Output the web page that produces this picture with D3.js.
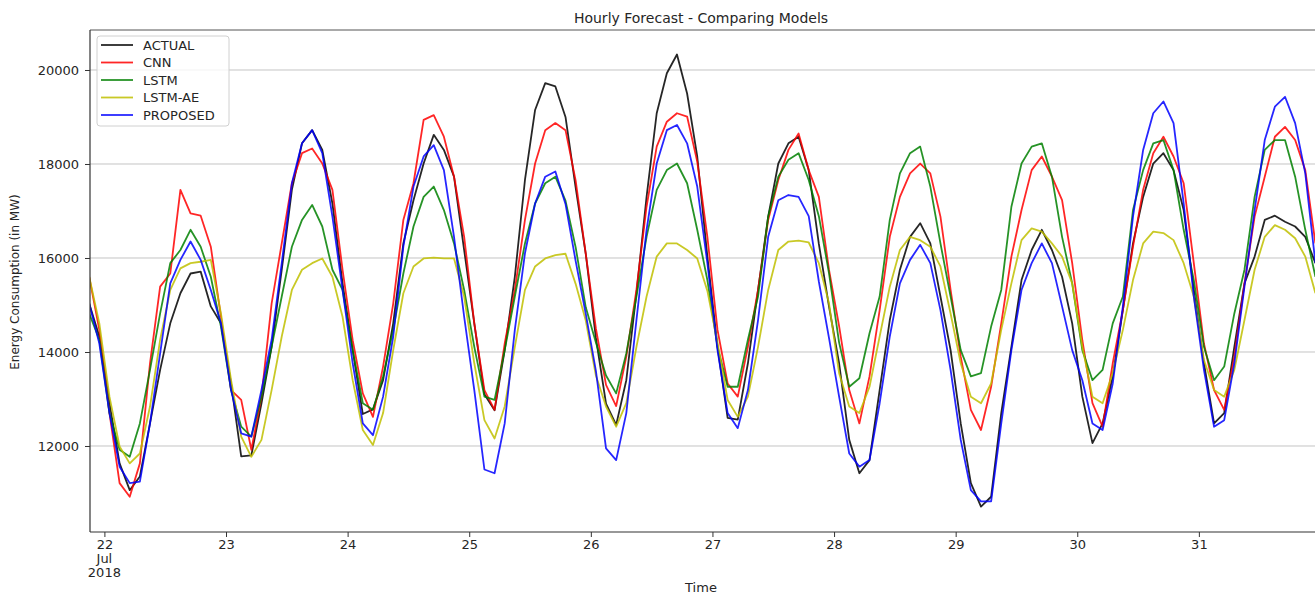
<!DOCTYPE html>
<html><head><meta charset="utf-8">
<script src="https://cdn.jsdelivr.net/npm/d3@7"></script>
<style>
body{margin:0;background:#fff;}
svg text{font-family:"DejaVu Sans",sans-serif;fill:#262626;}
</style></head>
<body><svg id="chart" width="1315" height="594"></svg>
<script>
// Series names (legend order)
const seriesNames = ["ACTUAL","CNN","LSTM","LSTM-AE","PROPOSED"];
// Time axis: samples every 2 hours from 2018-07-21 21:00
const startTime = new Date(2018,6,21,21,0,0);
const stepHours = 2;
// Values, MW, one row per 24h (12 samples)
const actual = [
15030,14330,12910,11630,11060,11350,12480,13620,14610,15250,15670,15710,
14970,14610,13330,11780,11800,12910,14110,15750,17450,18440,18720,18300,
17160,15460,14040,12680,12780,13400,14610,16310,17230,18010,18620,18300,
17730,16170,14610,13100,12760,14040,15600,17660,19150,19720,19650,19000,
17500,16090,14300,12900,12450,13400,15250,17300,19080,19930,20330,19500,
18160,16030,14110,12600,12560,13760,15320,16880,18010,18440,18580,17870,
16300,14970,13760,12130,11420,11700,13190,14680,15750,16450,16740,16310,
15180,14040,12480,11210,10710,10920,12700,14110,15530,16170,16600,16170,
15600,14610,13050,12060,12480,13480,14890,16310,17300,18010,18230,17870,
17020,15320,13760,12480,12700,14110,15460,16030,16810,16900,16770,16670,
16450,15890];
const cnn = [
15600,14470,12700,11210,10920,11630,13760,15390,15670,17450,16950,16900,
16240,14750,13190,12980,11920,13050,15030,16310,17590,18230,18330,18010,
17450,15750,14250,13120,12620,13690,15030,16810,17590,18940,19040,18580,
17730,16450,14610,13190,12770,14180,15320,16810,18010,18720,18870,18720,
17650,16090,14500,13300,12850,13900,15320,17090,18370,18900,19080,19010,
18050,16450,14470,13330,13050,14110,15320,16810,17660,18300,18650,17870,
17300,15750,14550,13190,12480,13480,14890,16450,17300,17800,18010,17800,
16880,15320,13900,12770,12340,13260,14610,16030,17020,17870,18160,17730,
17230,15890,14250,12910,12410,13760,14890,16240,17450,18230,18580,18160,
17590,15890,14180,13190,12770,13900,15460,16880,17730,18580,18790,18510,
17870,16310];
const lstm = [
14820,14260,12700,11920,11770,12480,13620,14820,15890,16170,16600,16240,
15600,14540,13190,12410,12200,13050,14110,15180,16240,16810,17130,16670,
15750,15320,14040,12910,12770,13480,14470,15670,16670,17300,17520,17020,
16310,15320,14110,13050,12980,14040,15180,16310,17160,17590,17730,17220,
16230,14950,14200,13500,13120,13970,15180,16450,17450,17870,18010,17590,
16600,15530,14110,13260,13260,14260,15180,16880,17730,18090,18230,17660,
16890,15680,14200,13260,13440,14400,15180,16810,17800,18230,18370,17520,
16310,15180,14040,13480,13550,14540,15320,17090,18010,18370,18440,17730,
16450,15460,14040,13400,13620,14610,15180,17020,17870,18440,18510,17870,
16600,15530,14110,13400,13690,14820,15750,17300,18300,18510,18510,17730,
16600,15600];
const lstmAe = [
15600,14610,13050,11990,11630,11840,12840,14260,15320,15780,15890,15920,
15960,14820,13400,12200,11770,12130,13190,14330,15320,15750,15890,15990,
15600,14750,13400,12340,12020,12700,14040,15250,15820,15990,16010,15990,
15990,15180,13760,12550,12160,12840,14110,15320,15820,15990,16060,16090,
15450,14670,13500,12840,12410,12910,14110,15180,16030,16310,16310,16170,
15990,15300,14200,12980,12620,13050,14110,15320,16170,16350,16370,16330,
15890,15040,13550,12840,12700,13260,14330,15390,16170,16450,16380,16240,
15820,14820,13760,13050,12910,13330,14470,15460,16380,16630,16560,16310,
16030,15460,14110,13050,12910,13550,14470,15530,16310,16560,16530,16380,
15890,15180,13830,13190,13050,13620,14680,15750,16450,16700,16600,16420,
16030,15250];
const proposed = [
15030,14180,12700,11560,11210,11240,12480,13970,15460,15960,16350,15960,
15320,14610,13190,12270,12200,13190,14260,15890,17590,18440,18720,18230,
16880,15320,13760,12480,12230,13050,14330,16240,17520,18160,18400,17870,
16450,14750,13190,11500,11420,12480,14470,16100,17160,17730,17840,17150,
15940,14810,13600,11950,11700,12700,14680,16600,18010,18720,18830,18440,
17520,15890,14040,12700,12380,13190,14680,16450,17230,17340,17300,16890,
15500,14300,13050,11840,11560,11700,12910,14330,15460,15960,16280,15890,
14890,13620,12130,11060,10820,10820,12480,14040,15320,15890,16310,15890,
14970,14040,13400,12480,12340,13330,14970,16880,18300,19080,19330,18870,
17160,15180,13620,12410,12550,13760,15390,17020,18510,19220,19430,18870,
17800,15890];
const yTicks = [12000,14000,16000,18000,20000];
const xTickDays = [22,23,24,25,26,27,28,29,30,31];
const chartTitle = "Hourly Forecast - Comparing Models";
const xLabel = "Time";
const yLabel = "Energy Consumption (in MW)";

const seriesData = [actual, cnn, lstm, lstmAe, proposed];
const colors = ["#000000","#ff0000","#008000","#bfbf00","#0000ff"];

const svg = d3.select("#chart");
const pL = 90, pT = 30, pB = 532, pR = 1315;
const endTime = d3.timeHour.offset(startTime, stepHours*(actual.length-1));
const x = d3.scaleTime().domain([startTime, endTime]).range([89.2, 89.2 + 5.067*stepHours*(actual.length-1)]);
const y = d3.scaleLinear().domain([10170, 20851]).range([pB, pT]);

// grid
svg.append("g").selectAll("line").data(yTicks).join("line")
  .attr("x1", pL).attr("x2", pR)
  .attr("y1", d=>y(d)).attr("y2", d=>y(d))
  .attr("stroke","#c4c4c4").attr("stroke-width",1);

// clip
svg.append("clipPath").attr("id","clip").append("rect")
  .attr("x",pL).attr("y",pT).attr("width",pR-pL).attr("height",pB-pT);

const line = d3.line().x((d,i)=>x(d3.timeHour.offset(startTime, i*stepHours))).y(d=>y(d));
const lg = svg.append("g").attr("clip-path","url(#clip)");
seriesData.forEach((s,k)=>{
  lg.append("path").datum(s).attr("d", line)
    .attr("fill","none").attr("stroke",colors[k]).attr("stroke-width",1.8)
    .attr("stroke-opacity",0.85).attr("stroke-linejoin","round");
});

// spines
svg.append("line").attr("x1",pL).attr("x2",pR).attr("y1",pT).attr("y2",pT).attr("stroke","#555").attr("stroke-width",1);
svg.append("line").attr("x1",pL).attr("x2",pL).attr("y1",pT).attr("y2",pB).attr("stroke","#333").attr("stroke-width",1.2);
svg.append("line").attr("x1",pL).attr("x2",pR).attr("y1",pB).attr("y2",pB).attr("stroke","#333").attr("stroke-width",1.2);

// y axis
const yAxis = d3.axisLeft(y).tickValues(yTicks).tickSize(5).tickPadding(6).tickFormat(d3.format("d"));
const ya = svg.append("g").attr("transform",`translate(${pL},0)`).call(yAxis);
ya.select(".domain").remove();
ya.selectAll("line").attr("stroke","#333");
ya.selectAll("text").attr("font-size","13px").attr("fill","#262626").style("font-family","DejaVu Sans");

// x axis
const xTickDates = xTickDays.map(d=>new Date(2018,6,d,0,0,0));
const xAxis = d3.axisBottom(x).tickValues(xTickDates).tickSize(5).tickPadding(3).tickFormat(d=>d.getDate());
const xa = svg.append("g").attr("transform",`translate(0,${pB})`).call(xAxis);
xa.select(".domain").remove();
xa.selectAll("line").attr("stroke","#333");
xa.selectAll("text").attr("font-size","13px").attr("fill","#262626").style("font-family","DejaVu Sans");
const firstX = x(xTickDates[0]);
svg.append("text").attr("x",firstX).attr("y",563).attr("text-anchor","middle").attr("font-size","13px").text("Jul");
svg.append("text").attr("x",firstX).attr("y",577).attr("text-anchor","middle").attr("font-size","13px").text("2018");

// labels
svg.append("text").attr("x",701).attr("y",23).attr("text-anchor","middle").attr("font-size","14px").text(chartTitle);
svg.append("text").attr("x",701).attr("y",592).attr("text-anchor","middle").attr("font-size","13px").text(xLabel);
svg.append("text").attr("transform","translate(19,282) rotate(-90)").attr("text-anchor","middle").attr("font-size","12px").text(yLabel);

// legend
const leg = svg.append("g");
leg.append("rect").attr("x",97).attr("y",36).attr("width",132).attr("height",90).attr("rx",3)
  .attr("fill","#fff").attr("fill-opacity",0.8).attr("stroke","#d0d0d0");
seriesNames.forEach((n,i)=>{
  const yy = 45 + i*17.5;
  leg.append("line").attr("x1",101).attr("x2",133).attr("y1",yy).attr("y2",yy)
    .attr("stroke",colors[i]).attr("stroke-width",1.8).attr("stroke-opacity",0.85);
  leg.append("text").attr("x",143).attr("y",yy+4.5).attr("font-size","13px").text(n);
});
</script></body></html>
